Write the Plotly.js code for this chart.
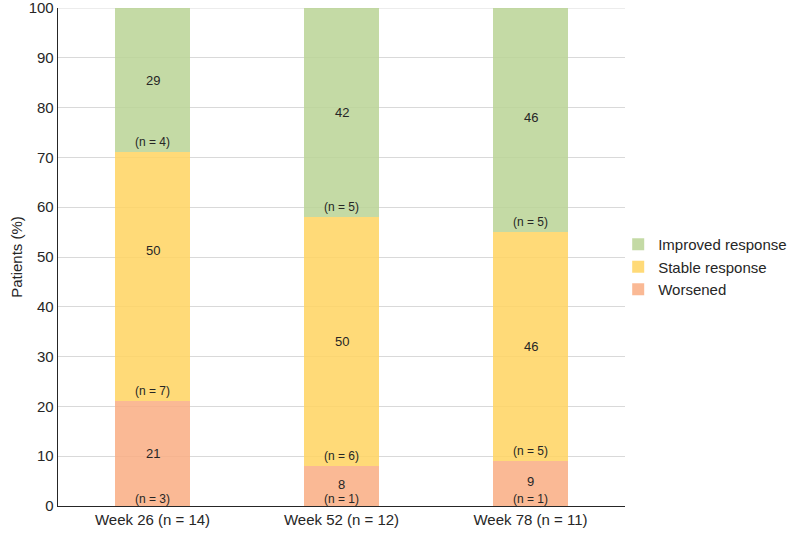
<!DOCTYPE html>
<html>
<head>
<meta charset="utf-8">
<script src="https://cdn.plot.ly/plotly-3.0.1.min.js"></script>
<style>html,body{margin:0;padding:0;background:#fff;}#chart{width:789px;height:534px;}</style>
</head>
<body>
<div id="chart"></div>
<script>
var categories = ["Week 26 (n = 14)", "Week 52 (n = 12)", "Week 78 (n = 11)"];
var worsened = [21, 8, 9];
var stable = [50, 50, 46];
var improved = [29, 42, 46];
var worsenedN = [3, 1, 1];
var stableN = [7, 6, 5];
var improvedN = [4, 5, 5];
var seriesNames = ["Worsened", "Stable response", "Improved response"];
var yTicks = [0, 10, 20, 30, 40, 50, 60, 70, 80, 90, 100];

var colors = ["rgba(249,173,131,0.85)", "rgba(255,211,96,0.85)", "rgba(186,212,149,0.85)"];
var series = [worsened, stable, improved];
var counts = [worsenedN, stableN, improvedN];

var traces = series.map(function (vals, i) {
  return {
    type: "bar",
    name: seriesNames[i],
    x: categories,
    y: vals,
    marker: {color: colors[i], line: {width: 0}},
    hoverinfo: "skip"
  };
});

var annotations = [];
var pctShift = [[0, 2, 2], [26, 0, 0], [0, 0, 0]];
categories.forEach(function (cat, j) {
  var base = 0;
  series.forEach(function (vals, i) {
    var v = vals[j];
    annotations.push({
      x: cat, y: base + v / 2, xref: "x", yref: "y",
      text: String(v), showarrow: false,
      yshift: pctShift[i][j],
      font: {family: "Liberation Sans, Arial, sans-serif", size: 13, color: "#262626"}
    });
    annotations.push({
      x: cat, y: base, xref: "x", yref: "y",
      text: "(n = " + counts[i][j] + ")", showarrow: false,
      yanchor: "bottom", yshift: (i === 0 ? -2 : 1),
      font: {family: "Liberation Sans, Arial, sans-serif", size: 12, color: "#262626"}
    });
    base += v;
  });
});

var layout = {
  width: 789, height: 534,
  margin: {l: 58, r: 164, t: 8, b: 28, pad: 0, autoexpand: false},
  barmode: "stack",
  bargap: 0.6,
  paper_bgcolor: "#ffffff",
  plot_bgcolor: "#ffffff",
  font: {family: "Liberation Sans, Arial, sans-serif", size: 15, color: "#262626"},
  xaxis: {
    showline: true, linecolor: "#262626", linewidth: 1.3,
    ticks: "", showgrid: false, tickfont: {size: 15}
  },
  yaxis: {
    range: [0, 100], tickmode: "array", tickvals: yTicks,
    ticklabeloverflow: "allow",
    showline: true, linecolor: "#262626", linewidth: 1.3,
    showgrid: true, gridcolor: "#d9d9d9", gridwidth: 1, zeroline: false,
    ticks: "", tickfont: {size: 15}, ticklen: 0,
    title: {text: "Patients (%)", font: {size: 15}, standoff: 2}
  },
  shapes: [{
    type: "line", xref: "paper", yref: "y", x0: 0, x1: 1, y0: 100, y1: 100,
    line: {color: "#d9d9d9", width: 1}, layer: "below"
  }],
  legend: {
    x: 0.988, xanchor: "left", y: 0.48, yanchor: "middle",
    traceorder: "reversed", font: {size: 15}, itemwidth: 30,
    bgcolor: "rgba(0,0,0,0)", tracegroupgap: 0
  },
  annotations: annotations,
  showlegend: true
};

Plotly.newPlot("chart", traces, layout, {displayModeBar: false, staticPlot: true});
</script>
</body>
</html>
